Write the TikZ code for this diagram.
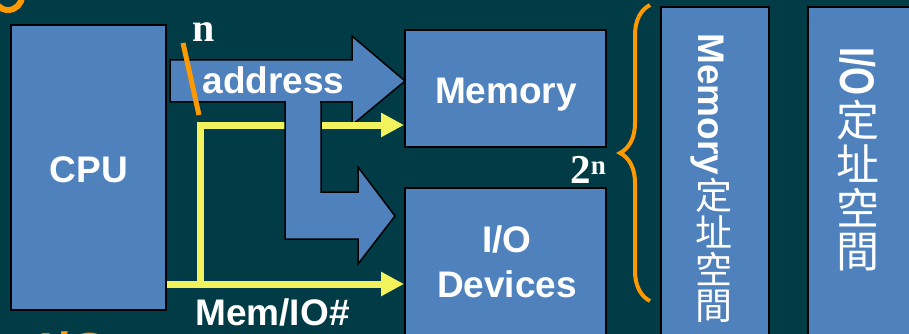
\documentclass[tikz,border=0pt]{standalone}
\usepackage{fontspec}
\setmainfont{Liberation Sans}
\newfontfamily\timesbf{Liberation Serif}
\newfontfamily\cjk{Noto Sans CJK TC}
\usepackage{tikz}
\usetikzlibrary{arrows.meta}
\usetikzlibrary{scopes}
\usetikzlibrary{decorations.pathreplacing}

\definecolor{slidebg}{RGB}{0,59,70}
\definecolor{boxblue}{RGB}{79,129,189}
\definecolor{sigyellow}{RGB}{242,242,92}
\definecolor{markorange}{RGB}{255,153,0}

\tikzset{sig/.style={draw=sigyellow,line width=7}}

\begin{document}
\begin{tikzpicture}[x=1pt,y=-1pt]
\fill[slidebg] (0,0) rectangle (909,334);
\useasboundingbox (0,0) rectangle (909,334);

% cut-off bits of the slide around the picture
\draw[markorange,line width=6] (8,-4) circle (14);
\node[markorange,anchor=north west,inner sep=0,font=\fontsize{55}{55}\selectfont\bfseries] (rest) at (38,331) {I/O};

\begin{scope}[every node/.style={rectangle,draw=black,line width=2,fill=boxblue,inner sep=0}]
    \node[minimum width=155,minimum height=285] (cpu) at (88.5,167.5) {};
    \node[minimum width=201,minimum height=117] (mem) at (505.5,88.5) {};
    \node[minimum width=201,minimum height=152] (io) at (505.5,264) {};
    \node[minimum width=108,minimum height=338] (mspace) at (715,176) {};
    \node[minimum width=111,minimum height=338] (iospace) at (863.5,176) {};
\end{scope}

% address bus
\filldraw[fill=boxblue,draw=black,line width=1.5]
    (170,60) -- (352,60) -- (352,36) -- (405,81) -- (352,125) -- (352,102) -- (170,102) -- cycle;

\coordinate (fork) at (200,284);
\begin{scope}[>={Triangle[length=23pt,width=23pt]}]
    \draw [sig,->] (cpu.east |- fork) -- (io.west |- fork);
    \draw [sig,->] ([yshift=3.5]fork) |- (mem.west |- 0,125);
\end{scope}

\filldraw[fill=boxblue,draw=black,line width=1.5]
    (285,102) -- (321,102) -- (321,192) -- (358,192) -- (358,167) -- (395,216)
    -- (358,264) -- (358,239) -- (285,239) -- cycle;
\fill[boxblue] (286,98) rectangle (320,106);

\draw[markorange,line width=5] (183,43) -- (199,115);
\draw[markorange,line width=4,decorate,decoration={brace,amplitude=30}] (650,301) -- (650,5);

\begin{scope}[every node/.style={text=white,inner sep=0,font=\fontsize{37}{45}\selectfont\bfseries}]
    \node[anchor=base] (cpulbl) at (89,182) {CPU};
    \node[anchor=base] (memlbl) at (506,103) {Memory};
    \node[align=center] (iolbl) at (507,261.5) {I/O\\Devices};
    \node[anchor=base] (addr) at (273.5,94) {address};
    \node[anchor=base] (sel) at (272.5,325) {Mem/IO\#};
    \node[anchor=base west,rotate=-90,font=\fontsize{37}{37}\selectfont\bfseries] (mlbl) at (698,33) {Memory};
    \node[anchor=base west,rotate=-90,font=\fontsize{36}{36}\selectfont\bfseries] (iolbl2) at (840,47) {\scalebox{1}[1.35]{I/O}};
    \foreach \c [count=\i] in {定,址,空,間}
        \node[font=\cjk\fontsize{37}{37}\selectfont] (mc\i) at (714,158+37*\i) {\c};
    \foreach \c [count=\i] in {定,址,空,間}
        \node[font=\cjk\fontsize{43}{43}\selectfont] (ic\i) at (858,76+44*\i) {\c};
    \node[anchor=base,font=\fontsize{40}{40}\timesbf\bfseries] (bits) at (204,42) {n};
    \node[anchor=base east,font=\fontsize{41}{41}\timesbf\bfseries] (size) at (606,183)
        {2\raisebox{9pt}{\fontsize{27}{27}\selectfont n}};
\end{scope}
\end{tikzpicture}
\end{document}
